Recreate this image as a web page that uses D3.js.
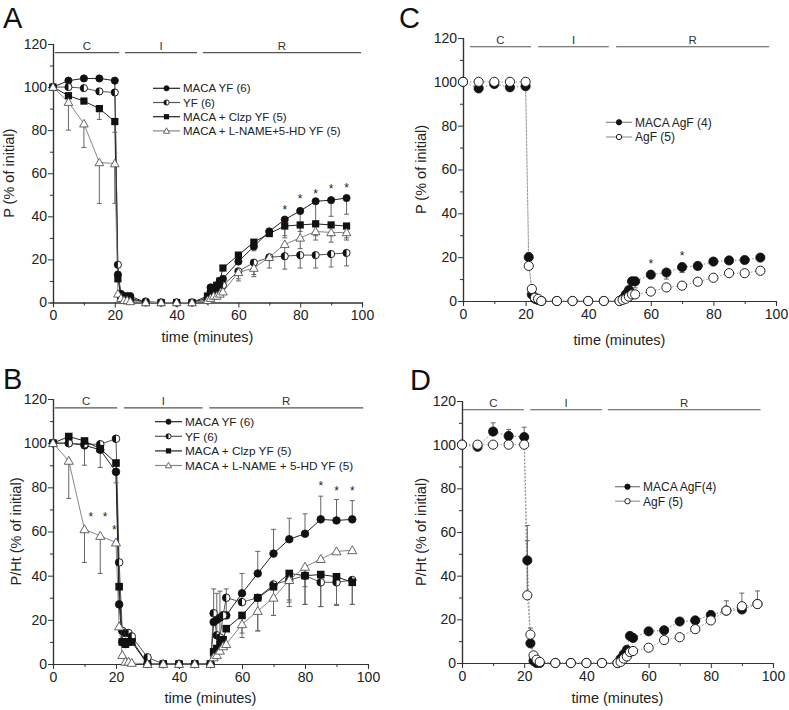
<!DOCTYPE html>
<html>
<head>
<meta charset="utf-8">
<script src="https://cdn.jsdelivr.net/npm/d3@7"></script>
<style>
  body { margin: 0; background: #fff; }
  text { font-family: "Liberation Sans", Arial, sans-serif; }
</style>
</head>
<body>
<div id="chart"></div>
<script>
// sampling times (minutes), shared by every series
const times = [0, 5, 10, 15, 20, 21, 22, 23, 24, 25, 30, 35, 40, 45, 50, 51, 52, 53, 54, 55, 60, 65, 70, 75, 80, 85, 90, 95];

// panel A : P (% of initial)
const aMacaYF  = [100, 103, 104, 104, 103, 13, 4, 3, 3, 3, 0, 0, 0, 0, 2, 5, 6, 8, 10, 11, 19, 26, 33, 38.5, 42.5, 47, 47.5, 48.5];
const aYF      = [100, 100, 99.5, 98, 97.5, 17.5, 2, 1, 1, 1, 0.5, 0, 0, 0, 1, 7, 6, 5, 6, 8, 14.5, 18.5, 21, 21.5, 22, 22, 22.5, 23];
const aClzp    = [100, 96, 93.5, 90, 84, 11, 3, 2, 2, 2, 0, 0, 0, 0, 3, 5, 7, 8, 10, 16, 22, 28, 32, 35.5, 36, 36.5, 36, 35.5];
const aLname   = [100, 93, 83, 65, 64.5, 4, 2, 1, 1, 0.5, 0, 0, 0, 0, 1, 2, 3, 3, 4, 5, 14, 16, 21, 27, 30, 33, 32.5, 32.5];
const aErrMaca = [[75, 31], [80, 33], [85, 38], [90, 40], [95, 41]];
const aErrYF   = [[60, 11], [65, 13], [75, 15.5], [80, 16], [85, 16], [90, 16.5], [95, 17]];
const aErrClzp = [[15, 85], [20, 79], [60, 19], [65, 24], [75, 30], [80, 29], [85, 31], [90, 31], [95, 30]];
const aErrLn   = [[5, 80], [10, 72], [15, 46], [20, 46], [60, 10], [65, 12], [70, 16], [75, 20], [80, 25], [85, 29], [90, 28], [95, 29]];
const aStars   = [[75, 43.5], [80, 48.5], [85, 51], [90, 53], [95, 53.5]];

// panel B : P/Ht (% of initial)
const bMacaYF  = [100, 100, 99, 97, 87, 27, 10, 9, 10, 11, 0, 0, 0, 0, 0, 19, 20, 21, 22, 22, 32, 41, 50, 56.5, 59, 65.5, 65, 65.5];
const bYF      = [100, 100, 99.5, 99.5, 102, 46, 15, 14, 14, 12.5, 3, 0, 0, 0, 0, 23, 13, 12, 22, 30, 28, 30, 36, 38, 40, 37, 37, 38];
const bClzp    = [100, 103, 101, 97.5, 91, 35, 10, 9, 10, 10, 0, 0, 0, 0, 0, 5.5, 7, 9, 11, 16, 22, 30, 35, 41, 40, 40.5, 39.5, 37];
const bLname   = [100, 92, 61, 58, 55, 17, 4, 1, 1, 0.5, 0, 0, 0, 0, 0, 3, 4, 6, 8, 9, 18, 24, 30, 38, 44, 47.5, 51, 51.5];
const bErrMaca = [[55, 34], [60, 41], [65, 51], [70, 61], [75, 66], [80, 68], [85, 76], [90, 74.5], [95, 74]];
const bErrYF   = [[10, 90], [15, 89], [51, 34], [52, 32], [53, 33], [75, 28], [80, 27], [85, 26], [90, 27], [95, 27]];
const bErrClzp = [[20, 82], [60, 12], [65, 15], [70, 22], [75, 26], [80, 27], [85, 26], [90, 26.5], [95, 27]];
const bErrLn   = [[5, 75], [10, 46], [15, 41], [60, 14], [65, 15], [70, 22], [75, 29], [80, 35]];
const bStars   = [[12, 67], [16.5, 67], [19.5, 61], [85, 81], [90, 79], [95, 79]];

// panel C : P (% of initial)
const cMacaAgF = [100, 97, 99, 97.5, 98, 20, 3, 1, 0.5, 0, 0, 0, 0, 0, 0, 1, 3, 5, 9, 9, 12, 13, 15.5, 16, 18, 18.5, 18.7, 19.8];
const cAgF     = [100, 100, 100, 100, 100, 16, 5.5, 1.5, 1, 0, 0, 0, 0, 0, 0, 0.5, 1, 2, 3, 3, 4.3, 6.2, 7, 8.8, 10.6, 12.7, 12.7, 13.8];
const cErrMaca = [[55, 6], [65, 10], [70, 13]];
const cErrAgF  = [[21, 22]];
const cStars   = [[60, 17.5], [70, 21]];

// panel D : P/Ht (% of initial)
const dMacaAgF = [100, 99, 106, 104, 103.5, 47, 9, 1, 0, 0, 0, 0, 0, 0, 0, 2, 4, 6, 12.4, 11.5, 14.5, 15, 19, 19.5, 22, 24, 24.5, 27];
const dAgF     = [100, 100, 100, 100, 100, 31, 13, 3.5, 1.5, 0.5, 0, 0, 0, 0, 0, 0.5, 2, 3, 5, 5.5, 7, 10.5, 11.8, 15.5, 19.5, 24, 26, 27];
const dErrMaca = [[10, 110], [15, 107], [20, 108], [21, 56]];
const dErrAgF  = [[21, 63], [22, 16], [85, 28.5], [90, 32], [95, 33]];

// protocol phases drawn across the top (time units)
const phaseLabels = ['C', 'I', 'R'];
const phasesA = [[0.6, 21.4], [23.3, 46.6], [48.5, 99.7]];
const phasesB = [[0.6, 20.4], [22.5, 47.5], [49.6, 98.5]];
const phasesC = [[2.2, 21.7], [24, 46.6], [48.9, 97.8]];
const phasesD = [[0.3, 19.9], [21.9, 45], [46.9, 96]];
const phaseLevel = 116;

const xMajor = [0, 20, 40, 60, 80, 100];
const xMinor = [10, 30, 50, 70, 90];
const yMajor = [0, 20, 40, 60, 80, 100, 120];
const yMinor = [10, 30, 50, 70, 90, 110];

const svg = d3.select('#chart').append('svg')
    .attr('width', 789)
    .attr('height', 710)
    .style('background-color', '#fff');

function marker(g, type, x, y, r) {
    if (type === 'filled') {
        g.append('circle').attr('cx', x).attr('cy', y).attr('r', r)
            .attr('fill', '#111').attr('stroke', '#111').attr('stroke-width', 0.8);
    } else if (type === 'open') {
        g.append('circle').attr('cx', x).attr('cy', y).attr('r', r)
            .attr('fill', '#fff').attr('stroke', '#222').attr('stroke-width', 1);
    } else if (type === 'half') {
        g.append('circle').attr('cx', x).attr('cy', y).attr('r', r)
            .attr('fill', '#fff').attr('stroke', '#222').attr('stroke-width', 1);
        g.append('path')
            .attr('d', `M${x},${y - r}A${r},${r} 0 0 0 ${x},${y + r}Z`)
            .attr('fill', '#111');
    } else if (type === 'square') {
        g.append('rect').attr('x', x - r).attr('y', y - r).attr('width', 2 * r).attr('height', 2 * r)
            .attr('fill', '#111');
    } else if (type === 'triangle') {
        const s = r * 1.2;
        g.append('path')
            .attr('d', `M${x},${y - s}L${x + s},${y + s * 0.75}L${x - s},${y + s * 0.75}Z`)
            .attr('fill', '#fff').attr('stroke', '#555').attr('stroke-width', 0.9);
    }
}

function drawPanel(p) {
    const x = d3.scaleLinear().domain([0, 100]).range([p.x0, p.x1]);
    const y = d3.scaleLinear().domain([0, 120]).range([p.y0, p.y120]);
    const g = svg.append('g');

    // axes (major + minor ticks)
    const styleAxis = sel => {
        sel.select('.domain').attr('stroke', '#333').attr('stroke-width', 1.2);
        sel.selectAll('.tick line').attr('stroke', '#333').attr('stroke-width', 1);
        sel.selectAll('text').attr('font-size', 14).attr('fill', '#222')
            .attr('font-family', '"Liberation Sans", Arial, sans-serif');
    };
    g.append('g').attr('transform', `translate(0,${p.y0})`)
        .call(d3.axisBottom(x).tickValues(xMinor).tickSize(3).tickFormat('')).call(styleAxis);
    g.append('g').attr('transform', `translate(0,${p.y0})`)
        .call(d3.axisBottom(x).tickValues(xMajor).tickSize(5).tickPadding(3).tickSizeOuter(0)).call(styleAxis);
    g.append('g').attr('transform', `translate(${p.x0},0)`)
        .call(d3.axisLeft(y).tickValues(yMinor).tickSize(3).tickFormat('')).call(styleAxis);
    g.append('g').attr('transform', `translate(${p.x0},0)`)
        .call(d3.axisLeft(y).tickValues(yMajor).tickSize(5).tickPadding(1).tickSizeOuter(0)).call(styleAxis);

    // titles
    g.append('text').attr('x', (p.x0 + p.x1) / 2).attr('y', p.xTitleY)
        .attr('text-anchor', 'middle').attr('font-size', 14.5).attr('fill', '#222')
        .text('time (minutes)');
    g.append('text')
        .attr('transform', `translate(${p.yTitleX},${(p.y0 + p.y120) / 2}) rotate(-90)`)
        .attr('text-anchor', 'middle').attr('dy', '0.35em')
        .attr('font-size', 14.5).attr('fill', '#222')
        .text(p.yTitle);
    g.append('text').attr('x', p.letterX).attr('y', p.letterY)
        .attr('font-size', 29).attr('fill', '#111').text(p.letter);

    // phase bars
    p.phases.forEach((ph, i) => {
        g.append('line')
            .attr('x1', x(ph[0])).attr('x2', x(ph[1]))
            .attr('y1', y(phaseLevel)).attr('y2', y(phaseLevel))
            .attr('stroke', '#555').attr('stroke-width', 1.2);
        g.append('text').attr('x', x((ph[0] + ph[1]) / 2)).attr('y', y(phaseLevel) - 3)
            .attr('text-anchor', 'middle').attr('font-size', 11.5).attr('fill', '#333')
            .text(phaseLabels[i]);
    });

    // connecting lines
    const line = d3.line().x(d => x(d[0])).y(d => y(d[1]));
    p.series.forEach(s => {
        g.append('path')
            .datum(times.map((t, i) => [t, s.values[i]]))
            .attr('d', line)
            .attr('fill', 'none')
            .attr('stroke', s.color)
            .attr('stroke-width', s.width || 1)
            .attr('stroke-dasharray', s.dash || null);
    });

    // error bars
    p.series.forEach(s => {
        (s.err || []).forEach(e => {
            const v = s.values[times.indexOf(e[0])];
            const xe = x(e[0]);
            g.append('line').attr('x1', xe).attr('x2', xe).attr('y1', y(v)).attr('y2', y(e[1]))
                .attr('stroke', '#666').attr('stroke-width', 1);
            g.append('line').attr('x1', xe - 2.5).attr('x2', xe + 2.5).attr('y1', y(e[1])).attr('y2', y(e[1]))
                .attr('stroke', '#666').attr('stroke-width', 1);
        });
    });

    // markers
    p.series.forEach(s => {
        times.forEach((t, i) => marker(g, s.marker, x(t), y(s.values[i]), p.r));
    });

    // significance stars
    (p.stars || []).forEach(st => {
        g.append('text').attr('x', x(st[0])).attr('y', y(st[1]) + 5)
            .attr('text-anchor', 'middle').attr('font-size', 12).attr('fill', '#222').text('*');
    });

    // legend
    const L = p.legend;
    p.series.forEach((s, i) => {
        const ly = L.y + i * L.gap;
        g.append('line').attr('x1', L.x1).attr('x2', L.x2).attr('y1', ly).attr('y2', ly)
            .attr('stroke', s.color).attr('stroke-width', 1.2);
        marker(g, s.marker, (L.x1 + L.x2) / 2, ly, L.r);
        g.append('text').attr('x', L.tx).attr('y', ly).attr('dy', '0.36em')
            .attr('font-size', L.size).attr('fill', '#222').text(s.name);
    });
}

drawPanel({
    letter: 'A', letterX: 3, letterY: 28,
    x0: 53, x1: 362, y0: 302.5, y120: 44, r: 3.6,
    xTitleY: 342, yTitleX: 9, yTitle: 'P (% of initial)',
    phases: phasesA, stars: aStars,
    legend: { x1: 153, x2: 180, tx: 183, y: 88.3, gap: 14.2, r: 2.6, size: 11.5 },
    series: [
        { name: 'MACA YF (6)', values: aMacaYF, marker: 'filled', color: '#222', err: aErrMaca },
        { name: 'YF (6)', values: aYF, marker: 'half', color: '#555', err: aErrYF },
        { name: 'MACA + Clzp YF (5)', values: aClzp, marker: 'square', color: '#222', err: aErrClzp },
        { name: 'MACA + L-NAME+5-HD YF (5)', values: aLname, marker: 'triangle', color: '#888', err: aErrLn }
    ]
});

drawPanel({
    letter: 'B', letterX: 3, letterY: 389,
    x0: 53, x1: 368, y0: 664, y120: 399, r: 3.8,
    xTitleY: 703, yTitleX: 16, yTitle: 'P/Ht (% of initial)',
    phases: phasesB, stars: bStars,
    legend: { x1: 155, x2: 182, tx: 185, y: 421.7, gap: 14.6, r: 2.6, size: 11.8 },
    series: [
        { name: 'MACA YF (6)', values: bMacaYF, marker: 'filled', color: '#222', err: bErrMaca },
        { name: 'YF (6)', values: bYF, marker: 'half', color: '#555', err: bErrYF },
        { name: 'MACA + Clzp YF (5)', values: bClzp, marker: 'square', color: '#222', err: bErrClzp },
        { name: 'MACA + L-NAME + 5-HD YF (5)', values: bLname, marker: 'triangle', color: '#888', err: bErrLn }
    ]
});

drawPanel({
    letter: 'C', letterX: 399, letterY: 28,
    x0: 463, x1: 776, y0: 301, y120: 38, r: 4.6,
    xTitleY: 345, yTitleX: 421, yTitle: 'P (% of initial)',
    phases: phasesC, stars: cStars,
    legend: { x1: 606, x2: 632, tx: 635, y: 122.3, gap: 14.7, r: 2.7, size: 12 },
    series: [
        { name: 'MACA AgF (4)', values: cMacaAgF, marker: 'filled', color: '#888', dash: '1.5,2', err: cErrMaca },
        { name: 'AgF (5)', values: cAgF, marker: 'open', color: '#999', dash: '1.5,2', err: cErrAgF }
    ]
});

drawPanel({
    letter: 'D', letterX: 410, letterY: 390,
    x0: 462, x1: 773, y0: 663, y120: 401, r: 4.6,
    xTitleY: 703, yTitleX: 421, yTitle: 'P/Ht (% of initial)',
    phases: phasesD,
    legend: { x1: 615, x2: 640, tx: 643, y: 486.7, gap: 14.5, r: 2.7, size: 12 },
    series: [
        { name: 'MACA AgF(4)', values: dMacaAgF, marker: 'filled', color: '#777', dash: '1.5,2', err: dErrMaca },
        { name: 'AgF (5)', values: dAgF, marker: 'open', color: '#999', dash: '1.5,2', err: dErrAgF }
    ]
});
</script>
</body>
</html>
